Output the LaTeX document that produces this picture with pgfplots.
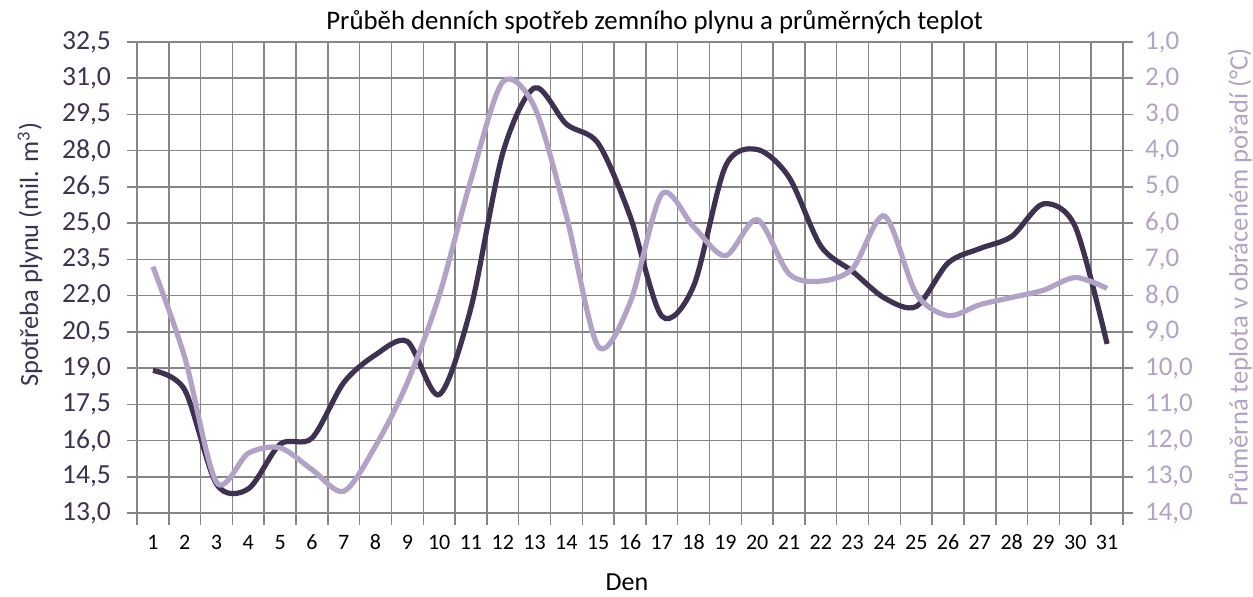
\documentclass[border=0pt]{standalone}
\usepackage{fontspec}
\setmainfont{Carlito}
\usepackage{pgfplots}
\pgfplotsset{compat=1.18}
\definecolor{darkp}{HTML}{3F3151}
\definecolor{lightp}{HTML}{B3A2C7}
\definecolor{gridc}{HTML}{868686}
\pgfplotstableread{
x y
1 18.9
2 18.1
3 14.2
4 14.0
5 15.85
6 16.1
7 18.4
8 19.55
9 20.1
10 17.9
11 21.5
12 27.9
13 30.6
14 29.1
15 28.3
16 25.3
17 21.15
18 22.4
19 27.35
20 28.05
21 26.9
22 24.05
23 23.0
24 21.9
25 21.55
26 23.35
27 23.95
28 24.45
29 25.8
30 24.85
31 20.0
}\gas
\pgfplotstableread{
x y
1 7.2
2 9.7
3 13.15
4 12.35
5 12.2
6 12.8
7 13.4
8 12.15
9 10.4
10 8.0
11 4.8
12 2.1
13 2.8
14 5.8
15 9.4
16 8.2
17 5.2
18 6.1
19 6.9
20 5.9
21 7.4
22 7.6
23 7.25
24 5.8
25 7.95
26 8.55
27 8.25
28 8.05
29 7.85
30 7.5
31 7.8
}\temp
\begin{document}
\begin{tikzpicture}[x=1pt,y=1pt]
\path[use as bounding box] (-68.5,-41.5) rectangle (558,256.5);
\begin{axis}[
  at={(0,0)}, anchor=south west,
  scale only axis, width=493pt, height=235.5pt,
  xmin=0.5, xmax=31.5, ymin=13, ymax=32.5,
  xtick={1,...,31},
  minor xtick={0.5,1.5,...,31.5},
  ytick={13,14.5,16,17.5,19,20.5,22,23.5,25,26.5,28,29.5,31,32.5},
  xtick pos=bottom, ytick pos=left,
  tick align=outside,
  major x tick style={draw=none},
  minor x tick style={draw=gridc, line width=0.75pt},
  major y tick style={draw=gridc, line width=0.75pt},
  minor tick length=6pt, major tick length=5pt,
  xminorgrids=true, ymajorgrids=true, xmajorgrids=false,
  minor x grid style={gridc, line width=0.75pt},
  major grid style={gridc, line width=0.75pt},
  axis line style={gridc, line width=0.75pt},
  /pgf/number format/assume math mode=true,
  yticklabel={\pgfmathprintnumber[fixed,fixed zerofill,precision=1,use comma]{\tick}},
  yticklabel style={color=darkp, font=\fontsize{13.8}{14}\selectfont, xshift=-4.5pt},
  xticklabel style={color=black, font=\fontsize{11}{11}\selectfont, text height=7.5pt, text depth=0pt, yshift=-2pt},
  ylabel={Spotřeba plynu (mil. m\textsuperscript{3})},
  ylabel style={at={(axis description cs:-0.1085,0.548)}, anchor=center, color=darkp, font=\fontsize{13.2}{14}\selectfont},
  xlabel={Den},
  xlabel style={at={(axis description cs:0.497,-0.148)}, anchor=center, inner sep=0pt, color=black, font=\fontsize{13}{14}\selectfont},
  title={Průběh denních spotřeb zemního plynu a průměrných teplot},
  every axis title shift=0pt,
  title style={at={(axis description cs:0.525,1.0425)}, anchor=center, color=black, font=\fontsize{13.4}{14}\selectfont},
]
\addplot[color=darkp, line width=2.6pt, smooth, tension=0.5] table[x=x,y=y] {\gas};
\end{axis}
\begin{axis}[
  at={(0,0)}, anchor=south west,
  scale only axis, width=493pt, height=235.5pt,
  xmin=0.5, xmax=31.5, ymin=1, ymax=14, y dir=reverse,
  axis x line=none, axis y line*=right,
  ytick={1,...,14},
  tick align=outside,
  major tick length=5pt,
  major y tick style={draw=gridc, line width=0.75pt},
  axis line style={gridc, line width=0.75pt},
  /pgf/number format/assume math mode=true,
  yticklabel={\pgfmathprintnumber[fixed,fixed zerofill,precision=1,use comma]{\tick}},
  yticklabel style={color=lightp, font=\fontsize{13.5}{14}\selectfont, xshift=2.5pt},
  ylabel={Průměrná teplota v obráceném pořadí (°C)},
  ylabel style={at={(axis description cs:1.1187,0.5)}, anchor=center, color=lightp, font=\fontsize{13.3}{14}\selectfont},
]
\addplot[color=lightp, line width=2.6pt, smooth, tension=0.5] table[x=x,y=y] {\temp};
\end{axis}
\end{tikzpicture}
\end{document}
